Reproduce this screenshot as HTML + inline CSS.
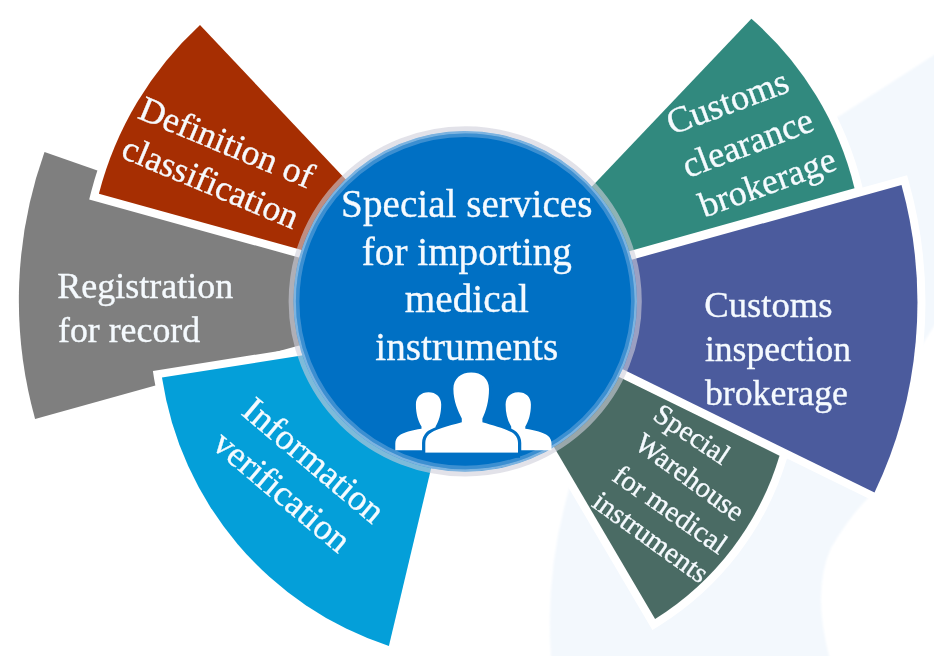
<!DOCTYPE html>
<html><head><meta charset="utf-8"><title>Special services for importing medical instruments</title>
<style>
html,body{margin:0;padding:0;background:#fff;}
body{width:934px;height:656px;overflow:hidden;position:relative;}
svg{display:block;position:absolute;left:0;top:0;}
text{font-family:"Liberation Serif","Times New Roman",Times,serif;fill:#f6fbff;stroke:#f6fbff;stroke-width:0.35px;}
</style></head><body>
<svg width="934" height="656" viewBox="0 0 934 656">
<defs>
<filter id="soft" x="-5%" y="-5%" width="110%" height="110%"><feGaussianBlur stdDeviation="1.2"/></filter>
</defs>
<!-- faint background shape -->
<path d="M965,35 L841,115 L700,200 L600,400 L570,486 Q545,570 551,656 L553,690 L838,690 L829,656 Q812,590 831,548 Q850,515 873,493 L911,363 L965,276 Z" fill="#f3f8fd" filter="url(#soft)"/>
<path d="M44.5,152.0 A441.5,441.5 0 0 0 35.1,418.9 L339.8,334.3 L342.5,256.3 Z" fill="#7f7f7f" stroke="#fff" stroke-width="16.0" stroke-linejoin="miter" stroke-miterlimit="10" paint-order="stroke"/>
<path d="M200.0,25.0 A348.4,348.4 0 0 0 98.9,193.8 L342.9,261.4 L374.8,210.3 Z" fill="#a62e02" stroke="#fff" stroke-width="16.0" stroke-linejoin="miter" stroke-miterlimit="10" paint-order="stroke"/>
<path d="M162.0,377.6 A335.3,335.3 0 0 0 388.9,646.0 L441.1,426.3 L344.5,348.7 Z" fill="#049fd9" stroke="#fff" stroke-width="16.0" stroke-linejoin="miter" stroke-miterlimit="10" paint-order="stroke"/>
<path d="M751.4,18.8 A325.8,325.8 0 0 1 854.5,188.2 L589.9,262.2 L562.2,217.7 Z" fill="#31897e" stroke="#fff" stroke-width="16.0" stroke-linejoin="miter" stroke-miterlimit="10" paint-order="stroke"/>
<path d="M779.5,455.7 A290.6,290.6 0 0 1 655.1,618.9 L532.9,411.3 L581.9,358.8 Z" fill="#4a6b64" stroke="#fff" stroke-width="16.0" stroke-linejoin="miter" stroke-miterlimit="10" paint-order="stroke"/>
<path d="M901.5,185.1 A441.6,441.6 0 0 1 874.5,492.6 L586.6,351.5 L591.1,270.9 Z" fill="#4b5b9d" stroke="#fff" stroke-width="16.0" stroke-linejoin="miter" stroke-miterlimit="10" paint-order="stroke"/>

<!-- centre circle -->
<ellipse cx="465.2" cy="301.4" rx="171.8" ry="170.3" fill="#0070c4"/>
<ellipse cx="465.2" cy="301.4" rx="167.55" ry="166.05" fill="none" stroke="#d6e4f4" stroke-opacity="0.28" stroke-width="3.5"/>
<ellipse cx="465.2" cy="301.4" rx="170.55" ry="169.05" fill="none" stroke="#d6e4f4" stroke-opacity="0.58" stroke-width="2.5"/>
<ellipse cx="465.2" cy="301.4" rx="174.20" ry="172.70" fill="none" stroke="#cfcfda" stroke-opacity="0.6" stroke-width="4.8"/>
<!-- people icon -->
<g fill="#fff">
<path d="M428.5,392.2 C436,392.2 441.2,397 441.2,404.5 C441.2,414 438.8,421.5 435.6,426.5 L435.6,429.5 L450,435 L450,450.3 L395.3,450.3 L395.3,443.5 C395.3,440.5 396.5,437.5 399,435.7 C403,432.5 412,430.3 421.5,428.8 L421.5,426.5 C418.3,421.5 415.9,414 415.9,404.5 C415.9,397 421,392.2 428.5,392.2 Z"/>
<path d="M 518.3 392.2 C 510.8 392.2 505.6 397.0 505.6 404.5 C 505.6 414.0 508.0 421.5 511.2 426.5 L 511.2 429.5 L 496.8 435.0 L 496.8 450.3 L 551.5 450.3 L 551.5 443.5 C 551.5 440.5 550.3 437.5 547.8 435.7 C 543.8 432.5 534.8 430.3 525.3 428.8 L 525.3 426.5 C 528.5 421.5 530.9 414.0 530.9 404.5 C 530.9 397.0 525.8 392.2 518.3 392.2 Z"/>
<path stroke="#0070c4" stroke-width="6.5" paint-order="stroke" stroke-linejoin="round" d="M471.2,372.5 C481.5,372.5 489,378.5 489,389 C489,401 486,411 482.4,418.5 L482.4,422.3 C495,426 510,430 514.3,434.3 C517,437 518,440 518,443 L518,452.7 L425.3,452.7 L425.3,443 C425.3,440 426.3,437 429,434.3 C433.3,430 448,426 461.8,422.3 L461.8,418.5 C458,411 453.4,401 453.4,389 C453.4,378.5 461,372.5 471.2,372.5 Z"/>
<rect x="424" y="452.8" width="96" height="5" fill="#0070c4"/>
</g>
<g opacity="0.999">
<text x="466.8" y="216.9" font-size="39.2" text-anchor="middle">Special services</text>
<text x="466.8" y="264.9" font-size="39.2" text-anchor="middle">for importing</text>
<text x="466.8" y="312.3" font-size="39.2" text-anchor="middle">medical</text>
<text x="466.8" y="359.9" font-size="39.2" text-anchor="middle">instruments</text>
<text x="57.2" y="297.5" font-size="36" text-anchor="start">Registration</text>
<text x="58.0" y="341.9" font-size="35.8" text-anchor="start">for record</text>
<text x="136.5" y="117.8" font-size="35.7" text-anchor="start" transform="rotate(22.5 136.5 117.8)">Definition of</text>
<text x="119.6" y="157" font-size="35.6" text-anchor="start" transform="rotate(22.7 119.6 157)">classification</text>
<text x="240.0" y="413.8" font-size="36.2" text-anchor="start" transform="rotate(40 240.0 413.8)">Information</text>
<text x="210.5" y="447" font-size="36.2" text-anchor="start" transform="rotate(40 210.5 447)">verification</text>
<text x="672" y="135.1" font-size="36.3" text-anchor="start" transform="rotate(-20.3 672 135.1)">Customs</text>
<text x="687.7" y="178.3" font-size="36.3" text-anchor="start" transform="rotate(-20.7 687.7 178.3)">clearance</text>
<text x="704.3" y="217.7" font-size="35.7" text-anchor="start" transform="rotate(-19.9 704.3 217.7)">brokerage</text>
<text x="704.2" y="316.7" font-size="36.7" text-anchor="start">Customs</text>
<text x="704.9" y="361.3" font-size="35.6" text-anchor="start">inspection</text>
<text x="704.9" y="404.8" font-size="35.8" text-anchor="start">brokerage</text>
<text x="651.5" y="418.5" font-size="28.8" text-anchor="start" transform="rotate(33.8 651.5 418.5)">Special</text>
<text x="633" y="447.2" font-size="28.8" text-anchor="start" transform="rotate(36.2 633 447.2)">Warehouse</text>
<text x="610.8" y="479.4" font-size="28.8" text-anchor="start" transform="rotate(35 610.8 479.4)">for medical</text>
<text x="590.6" y="505.7" font-size="28.8" text-anchor="start" transform="rotate(35.7 590.6 505.7)">instruments</text>
</g>
</svg>
</body></html>
